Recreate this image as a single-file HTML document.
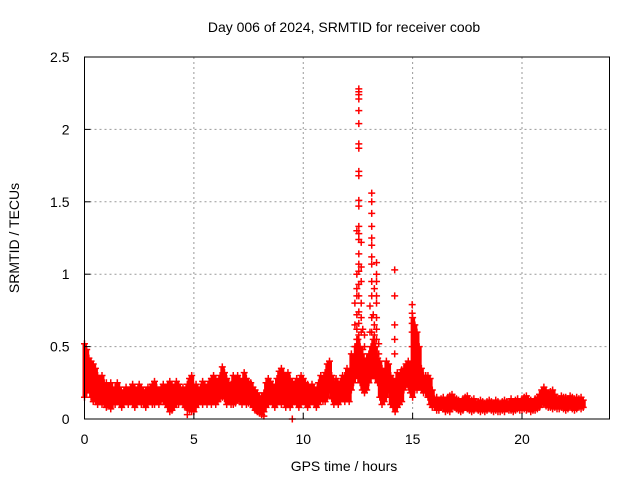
<!DOCTYPE html>
<html><head><meta charset="utf-8"><style>
body{margin:0;background:#fff}
svg{display:block;font-family:"Liberation Sans",sans-serif}
</style></head><body>
<svg id="chart" width="640" height="480" viewBox="0 0 640 480">
<text x="344" y="32" font-size="14" text-anchor="middle" fill="#000">Day 006 of 2024, SRMTID for receiver coob</text>
<text x="344" y="471" font-size="14" text-anchor="middle">GPS time / hours</text>
<text transform="translate(19,238) rotate(-90)" font-size="14" text-anchor="middle">SRMTID / TECUs</text>
<g id="grid"></g><g id="data"></g><g id="axes"></g>
</svg>
<script>
const xTicks=[0,5,10,15,20];
const yTicks=[0,0.5,1,1.5,2,2.5];
const yTickLabels=["0","0.5","1","1.5","2","2.5"];
const startHour=0, stepHour=0.1;
const lows=[.15,.18,.2,.15,.12,.12,.1,.12,.1,.1,
.08,.1,.07,.1,.1,.12,.1,.08,.1,.12,
.1,.12,.1,.08,.1,.12,.1,.1,.08,.1,
.12,.1,.1,.12,.1,.13,.12,.1,.08,.05,
.06,.08,.1,.1,.12,.1,.08,.07,.06,.05,
.05,.08,.1,.12,.1,.13,.1,.12,.1,.12,
.1,.12,.14,.15,.14,.1,.12,.1,.1,.11,
.13,.12,.1,.12,.1,.11,.1,.08,.06,.05,
.04,.03,.05,.08,.1,.12,.1,.08,.1,.12,
.1,.12,.08,.1,.08,.1,.12,.1,.08,.1,
.12,.1,.08,.1,.12,.1,.08,.1,.15,.12,
.12,.15,.2,.14,.1,.12,.1,.12,.15,.12,
.15,.12,.2,.25,.3,.28,.25,.2,.18,.2,
.25,.28,.3,.28,.25,.15,.1,.12,.15,.2,
.1,.08,.05,.08,.1,.12,.2,.25,.22,.18,
.15,.2,.2,.22,.2,.18,.18,.15,.1,.08,
.08,.06,.06,.08,.07,.05,.06,.05,.07,.08,
.07,.06,.05,.06,.08,.07,.06,.05,.06,.07,
.06,.05,.06,.05,.06,.07,.06,.05,.06,.05,
.05,.06,.05,.07,.06,.06,.05,.06,.07,.06,
.06,.07,.06,.07,.05,.06,.06,.07,.08,.1,
.1,.09,.08,.08,.07,.08,.07,.07,.08,.07,
.06,.07,.08,.07,.06,.07,.08,.07,.08];
const highs=[.52,.48,.42,.4,.38,.35,.3,.28,.3,.25,
.25,.22,.25,.2,.22,.25,.22,.18,.2,.22,
.2,.22,.24,.22,.2,.24,.22,.2,.2,.22,
.22,.24,.26,.22,.2,.22,.24,.22,.24,.26,
.24,.22,.26,.24,.2,.22,.2,.24,.28,.3,
.22,.24,.2,.22,.26,.24,.22,.26,.28,.3,
.28,.26,.3,.36,.32,.28,.25,.24,.3,.28,
.3,.28,.26,.32,.28,.26,.25,.22,.2,.18,
.15,.16,.18,.25,.28,.26,.24,.22,.28,.33,
.35,.32,.3,.32,.28,.26,.24,.28,.26,.3,
.28,.25,.24,.22,.24,.22,.2,.25,.3,.28,
.32,.38,.4,.3,.24,.28,.24,.26,.3,.3,
.35,.3,.45,.42,.5,.55,.5,.45,.4,.42,
.45,.5,.55,.5,.42,.4,.35,.3,.4,.38,
.3,.28,.25,.32,.3,.34,.35,.38,.4,.38,
.7,.65,.6,.5,.35,.3,.3,.3,.28,.2,
.14,.15,.13,.14,.15,.12,.15,.16,.17,.15,
.14,.13,.12,.14,.15,.16,.14,.13,.14,.12,
.12,.13,.12,.11,.12,.13,.12,.11,.13,.12,
.11,.12,.13,.12,.11,.14,.12,.13,.14,.12,
.14,.15,.16,.14,.13,.12,.14,.15,.17,.2,
.22,.2,.18,.19,.2,.17,.15,.14,.16,.15,
.15,.14,.16,.15,.14,.15,.14,.15,.13];
const spikeTimes=[12.54,12.54,12.54,12.54,12.54,12.54,12.54,12.54,12.54,12.54,12.54,12.54,12.54,12.54,12.54,12.54,12.54,12.54,12.54,12.54,12.54,12.54,12.54,12.54,
12.45,12.45,12.45,12.45,12.45,12.45,12.45,12.36,12.36,12.36,12.65,12.65,12.65,12.65,12.65,12.65,12.72,12.72,12.8,12.8,
13.13,13.13,13.13,13.13,13.13,13.13,13.13,13.13,13.13,13.13,13.13,13.13,
13.35,13.35,13.35,13.35,13.35,13.35,13.35,13.35,13.25,13.25,13.25,13.05,13.05,13.2,13.45,13.45,
14.18,14.18,14.18,14.18,14.18,14.98,14.98,14.98,14.98,14.98,9.5,8.2,4.7];
const spikeValues=[2.28,2.26,2.24,2.21,2.13,2.04,1.9,1.87,1.71,1.68,1.51,1.47,1.33,1.28,1.24,1.14,1.07,1.02,.93,.85,.74,.66,.58,.5,
1.3,1.0,.9,.85,.72,.62,.55,.8,.65,.5,1.22,1.05,.95,.8,.7,.6,.62,.48,.58,.5,
1.56,1.5,1.42,1.33,1.25,1.2,1.12,1.07,.95,.85,.7,.6,
1.08,1.0,.95,.85,.8,.7,.62,.55,.9,.65,.58,.78,.6,.72,.52,.45,
1.03,.85,.65,.55,.45,.79,.73,.66,.6,.5,0.0,0.02,0.03];

const L=84.5,R=609.5,T=57,B=419,XMAX=24,YMAX=2.5;
const xs=h=>L+(R-L)*h/XMAX;
const ys=v=>B-(B-T)*v/YMAX;
const NS="http://www.w3.org/2000/svg";
function mk(tag,attrs,parent){const e=document.createElementNS(NS,tag);for(const k in attrs)e.setAttribute(k,attrs[k]);parent.appendChild(e);return e;}
const grid=document.getElementById('grid'),data=document.getElementById('data'),axes=document.getElementById('axes');

xTicks.forEach(t=>{
 const x=xs(t);
 if(t>0){const g=mk('line',{x1:x,x2:x,y1:T,y2:B,stroke:'#999','stroke-dasharray':'2,3','stroke-width':1},grid);
 
 }
 const tk=mk('line',{x1:x,x2:x,y1:B,y2:B-6,stroke:'#000'},axes);
 
 
 const tx=mk('text',{x:x,y:B+25,'font-size':14,'text-anchor':'middle'},axes);tx.textContent=t;
 
 
});
yTicks.forEach((t,i)=>{
 const y=ys(t);
 if(t>0&&t<YMAX){const g=mk('line',{x1:L,x2:R,y1:y,y2:y,stroke:'#999','stroke-dasharray':'2,3','stroke-width':1},grid);
 
 }
 const tk=mk('line',{x1:L,x2:L+6,y1:y,y2:y,stroke:'#000'},axes);
 
 
 const tx=mk('text',{x:L-15,y:y+5,'font-size':14,'text-anchor':'end'},axes);tx.textContent=yTickLabels[i];
 
 
});
const frame=mk('rect',{x:L,y:T,width:R-L,height:B-T,fill:'none',stroke:'#000','stroke-width':1},axes);



function plus(h,v,name){
 const x=xs(h),y=ys(v);
 const p=mk('path',{d:`M${x-3.5} ${y}H${x+3.5}M${x} ${y-3.5}V${y+3.5}`,stroke:'#f00','stroke-width':1.5,fill:'none'},data);
 
 
}
lows.forEach((lo,i)=>{
 const h=startHour+i*stepHour,hi=highs[i];
 const r=mk('rect',{x:xs(h)-2,y:ys(hi),width:4.5,height:Math.max(0,ys(lo)-ys(hi)),fill:'#f00'},data);
 
 
 plus(h,lo,'srmtid-point');
 plus(h,hi,'srmtid-point');
});
spikeTimes.forEach((h,i)=>plus(h,spikeValues[i],'srmtid-spike-point'));
</script>
</body></html>
